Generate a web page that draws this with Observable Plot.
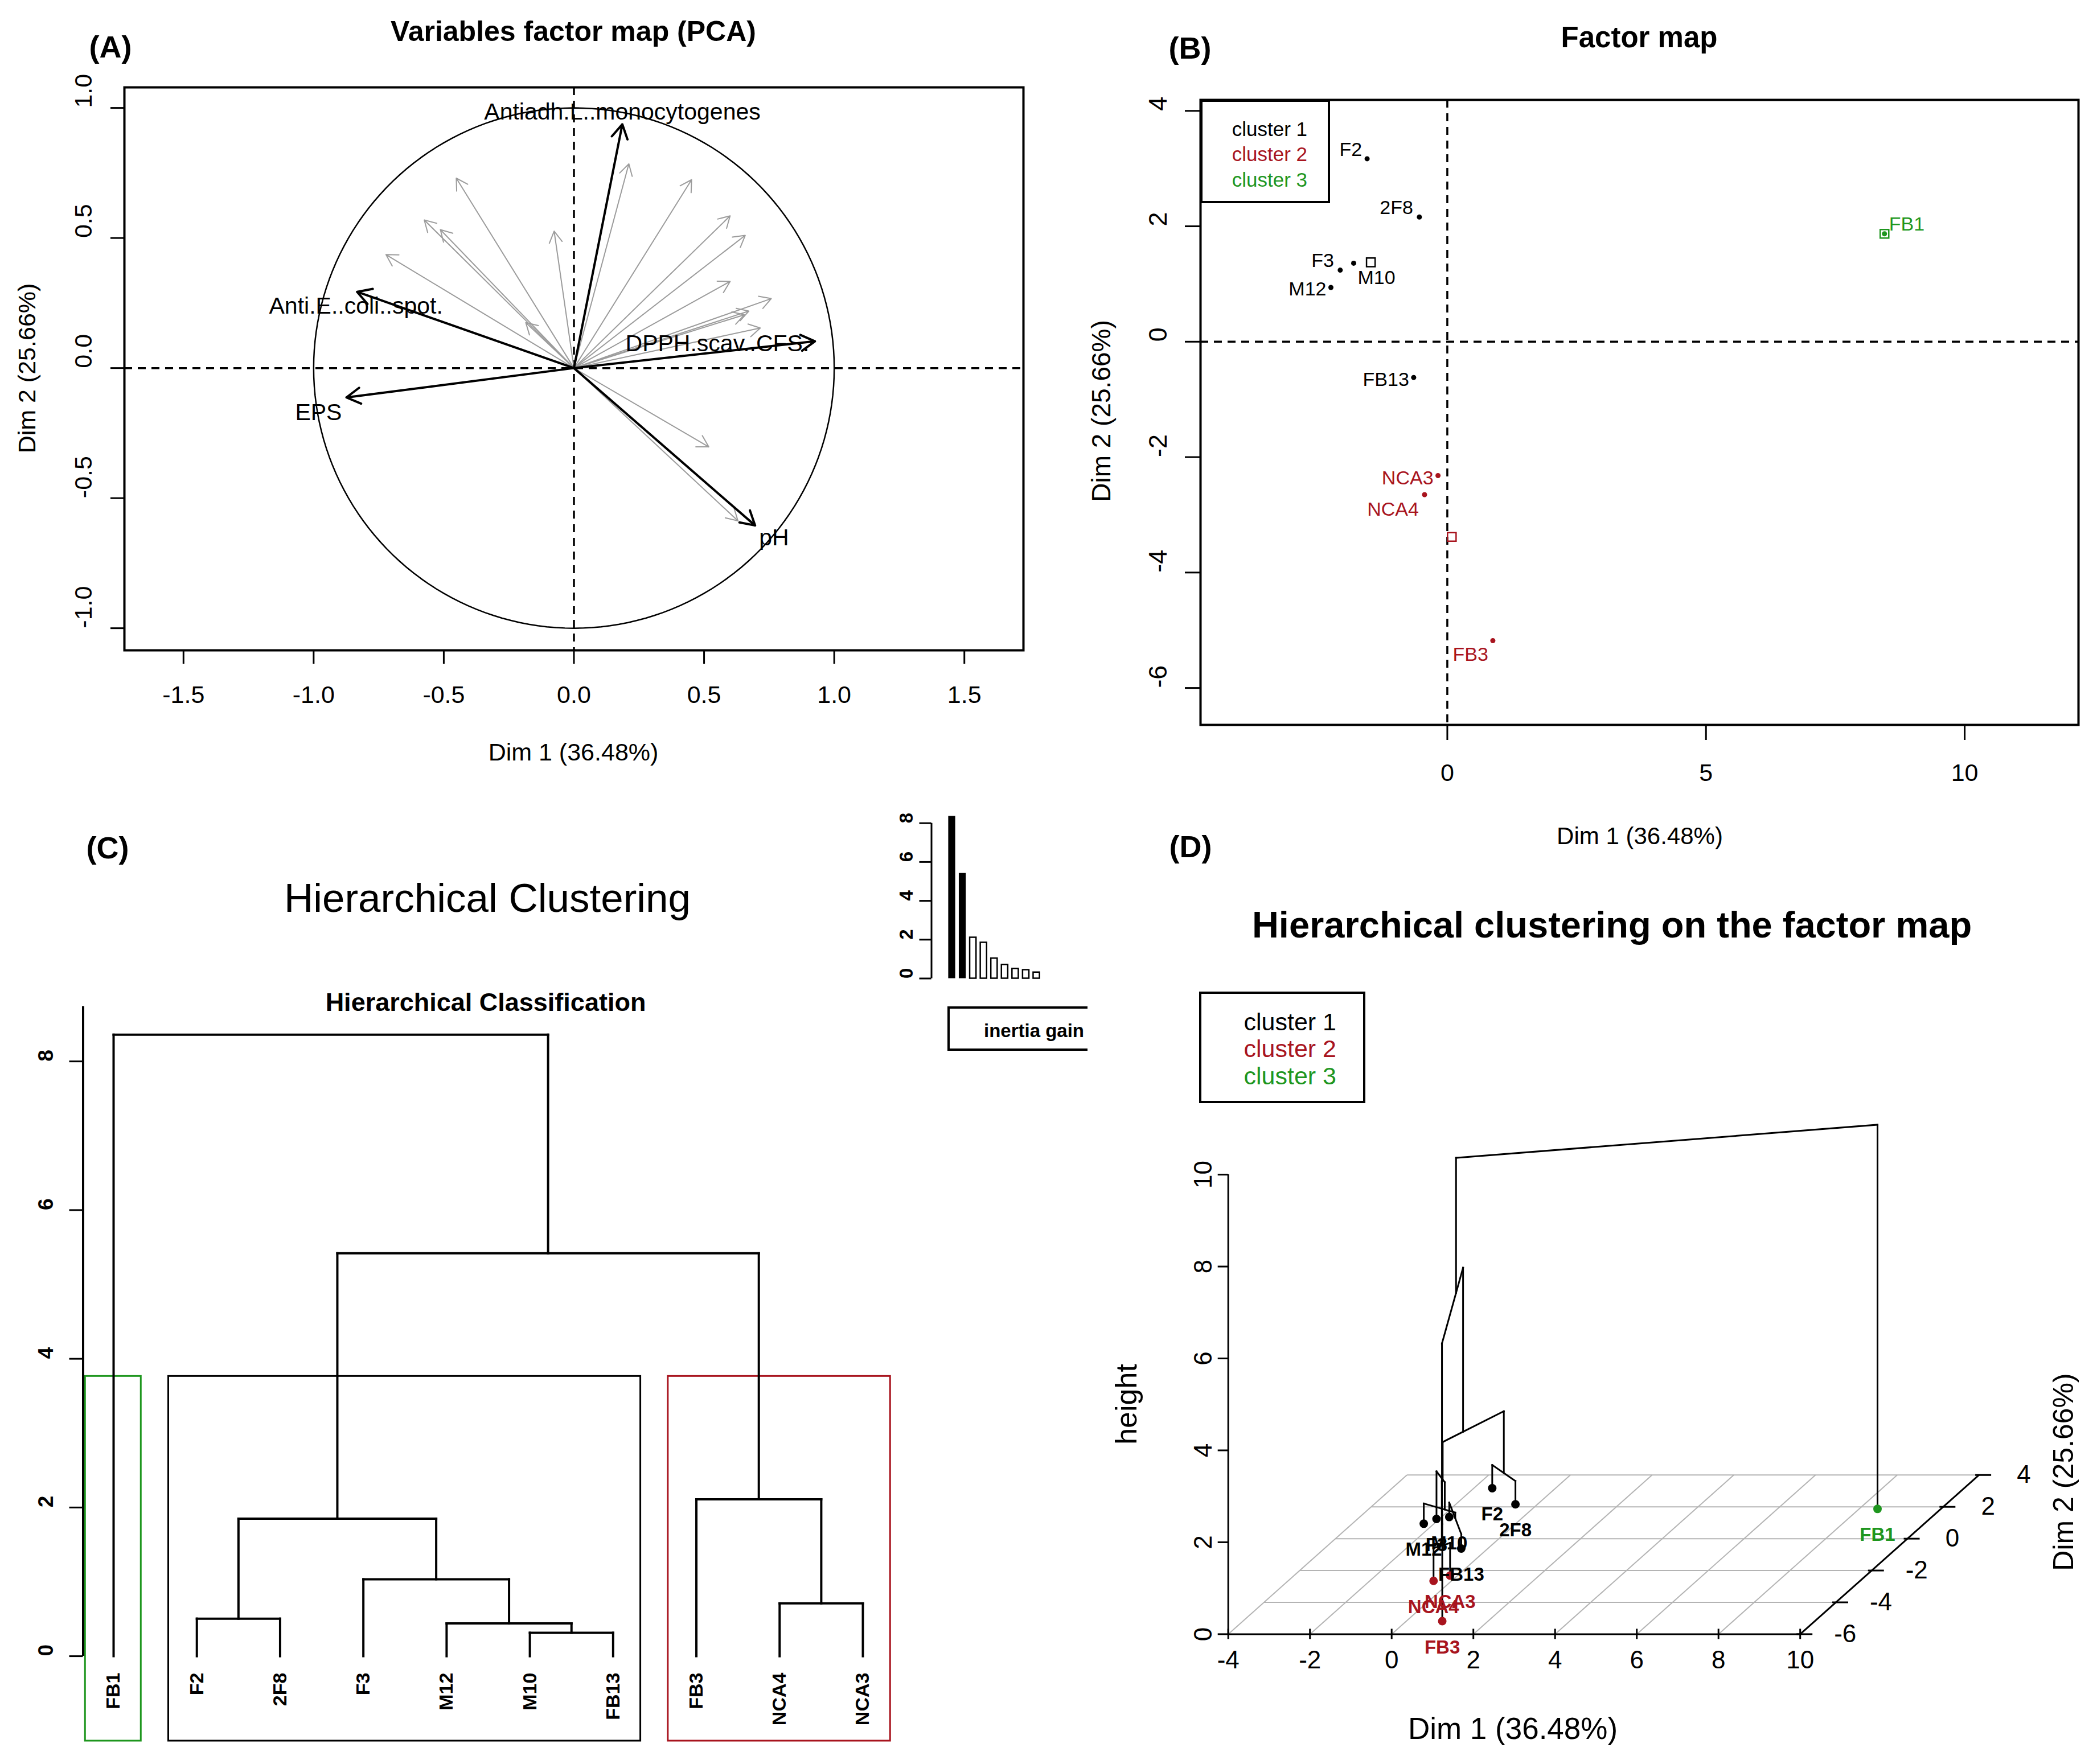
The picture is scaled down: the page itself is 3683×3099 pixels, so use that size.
<!DOCTYPE html>
<html><head><meta charset="utf-8">
<script src="https://cdn.jsdelivr.net/npm/d3@7"></script>
<script src="https://cdn.jsdelivr.net/npm/@observablehq/plot@0.6"></script>
<style>
html,body{margin:0;padding:0;background:#fff;overflow:hidden}
#fig{position:relative;width:3683px;height:3099px;background:#fff;font-family:"Liberation Sans",Arial,Helvetica,sans-serif;color:#000;overflow:hidden}
.abs{position:absolute;white-space:nowrap;line-height:1}
.panel{position:absolute}
.panel svg{overflow:visible;max-width:none}
.box{position:absolute;box-sizing:border-box;border:4px solid #000}
</style></head><body><div id="fig"></div>
<script>
// ---------------- DATA ----------------
// Panel A: variables factor map (correlation circle)
const mainVarNames = ["Antiadh.L..monocytogenes", "Anti.E..coli..spot.", "DPPH.scav..CFS.", "EPS", "pH"];
const mainVarDim1 = [0.186, -0.833, 0.926, -0.874, 0.696];
const mainVarDim2 = [0.937, 0.293, 0.103, -0.113, -0.605];
const otherVarDim1 = [-0.452, -0.575, -0.513, -0.722, -0.076, -0.185, 0.211, 0.452, 0.600, 0.658, 0.600, 0.758, 0.672, 0.655, 0.716, 0.518, 0.630];
const otherVarDim2 = [0.730, 0.569, 0.532, 0.436, 0.526, 0.175, 0.785, 0.724, 0.585, 0.510, 0.333, 0.267, 0.219, 0.205, 0.154, -0.303, -0.587];
const xTicksA = [-1.5, -1, -0.5, 0, 0.5, 1, 1.5];
const yTicksA = [-1, -0.5, 0, 0.5, 1];

// Individuals (factor map, panels B and D)
const indNames = ["F2", "2F8", "F3", "M10", "M12", "FB13", "NCA3", "NCA4", "FB3", "FB1"];
const indDim1 = [-1.55, -0.54, -2.07, -1.81, -2.25, -0.65, -0.18, -0.44, 0.88, 8.45];
const indDim2 = [3.17, 2.16, 1.24, 1.36, 0.94, -0.62, -2.32, -2.65, -5.18, 1.87];
const indCluster = [1, 1, 1, 1, 1, 1, 2, 2, 2, 3];
const clusterLabels = ["cluster 1", "cluster 2", "cluster 3"];
const xTicksB = [0, 5, 10];
const yTicksB = [-6, -4, -2, 0, 2, 4];

// Panel C: hierarchical tree
const leafOrder = ["FB1", "F2", "2F8", "F3", "M12", "M10", "FB13", "FB3", "NCA4", "NCA3"];
const mergeLeft = ["M10", "M12", "F2", "NCA4", "F3", "n3", "FB3", "n6", "FB1"];
const mergeRight = ["FB13", "n1", "2F8", "NCA3", "n2", "n5", "n4", "n7", "n8"];
const mergeHeight = [0.315, 0.44, 0.505, 0.71, 1.035, 1.85, 2.11, 5.42, 8.36];
const yTicksC = [0, 2, 4, 6, 8];
const yTicksInset = [0, 2, 4, 6, 8];

// Panel D: 3D map
const dim1Ticks3D = [-4, -2, 0, 2, 4, 6, 8, 10];
const dim2Ticks3D = [-6, -4, -2, 0, 2, 4];
const heightTicks3D = [0, 2, 4, 6, 8, 10];

// ---------------- STYLE ----------------
const FONT = "'Liberation Sans', Arial, Helvetica, sans-serif";
const RED = "#A8141E", GREEN = "#1E961E";
const clusterColor = {1: "#000000", 2: RED, 3: GREEN};
const STYLE = `background:transparent;overflow:visible;max-width:none;font-family:${FONT};`;
const dash = {stroke: "#000", strokeWidth: 3.5, strokeDasharray: "14,10"};

const fig = document.getElementById("fig");
function addText(txt, x, y, o = {}) {
  const d = document.createElement("div");
  d.className = "abs";
  d.textContent = txt;
  d.style.left = x + "px"; d.style.top = y + "px";
  d.style.fontSize = (o.size || 43) + "px";
  d.style.fontWeight = o.weight || "normal";
  d.style.color = o.color || "#000";
  if (o.family) d.style.fontFamily = o.family;
  const tx = o.anchor === "end" ? "-100%" : o.anchor === "start" ? "0" : "-50%";
  d.style.transform = `translate(${tx},-50%)` + (o.rot ? " rotate(-90deg)" : "");
  fig.appendChild(d);
}
function addBox(x1, y1, x2, y2, o = {}) {
  const d = document.createElement("div");
  d.className = "box";
  d.style.left = x1 + "px"; d.style.top = y1 + "px";
  d.style.width = (x2 - x1) + "px"; d.style.height = (y2 - y1) + "px";
  if (o.bw) d.style.borderWidth = o.bw + "px";
  if (o.noRight) d.style.borderRight = "none";
  fig.appendChild(d);
}
function mount(svg, left, top, w, h) {
  const wrap = document.createElement("div");
  wrap.className = "panel";
  wrap.style.left = left + "px"; wrap.style.top = top + "px";
  wrap.style.width = w + "px"; wrap.style.height = h + "px";
  wrap.appendChild(svg);
  fig.appendChild(wrap);
}

// ---------------- PANEL A ----------------
const circlePts = d3.range(0, 361, 2).map(a => ({x: Math.cos(a * Math.PI / 180), y: Math.sin(a * Math.PI / 180)}));
const mainVars = mainVarNames.map((n, i) => ({name: n, x: mainVarDim1[i], y: mainVarDim2[i]}));
const otherVars = otherVarDim1.map((x, i) => ({x, y: otherVarDim2[i]}));
const labelPosA = {
  "Antiadh.L..monocytogenes": {anchor: "middle", dx: 0, dy: -22},
  "Anti.E..coli..spot.": {anchor: "middle", dx: -2, dy: 25},
  "DPPH.scav..CFS.": {anchor: "end", dx: -10, dy: 4},
  "EPS": {anchor: "end", dx: -8, dy: 27},
  "pH": {anchor: "start", dx: 7, dy: 22}
};
// Plot's arrow wing length = headLength / 1.5 * strokeWidth
const plotA = Plot.plot({
  width: 1840, height: 1400, marginLeft: 218, marginRight: 43, marginTop: 153, marginBottom: 258,
  x: {domain: [-1.727, 1.727], axis: null},
  y: {domain: [-1.085, 1.079], axis: null},
  style: STYLE,
  marks: [
    Plot.line(circlePts, {x: "x", y: "y", stroke: "#000", strokeWidth: 2.5}),
    Plot.ruleX([0], dash),
    Plot.ruleY([0], dash),
    Plot.arrow(otherVars, {x1: () => 0, y1: () => 0, x2: "x", y2: "y", stroke: "#9c9c9c", strokeWidth: 2, headLength: 17}),
    Plot.arrow(mainVars, {x1: () => 0, y1: () => 0, x2: "x", y2: "y", stroke: "#000", strokeWidth: 4, headLength: 10.5}),
    ...mainVars.map(d => Plot.text([d], {x: "x", y: "y", text: "name", textAnchor: labelPosA[d.name].anchor,
      dx: labelPosA[d.name].dx, dy: labelPosA[d.name].dy, fontSize: 41, fontFamily: FONT, fill: "#000"})),
    Plot.frame({stroke: "#000", strokeWidth: 4}),
    Plot.axisX(xTicksA, {tickSize: 24, tickPadding: 38, tickFormat: d => d.toFixed(1), fontSize: 43, fontFamily: FONT, strokeWidth: 3, label: null}),
    Plot.axisY(yTicksA, {tickSize: 24, fill: "none", strokeWidth: 3, label: null}),
    Plot.text(yTicksA, {y: d => d, frameAnchor: "left", dx: -71, rotate: -90, text: d => d.toFixed(1), fontSize: 43, fontFamily: FONT})
  ]
});
mount(plotA, 0, 0, 1840, 1400);
addText("Variables factor map (PCA)", 1007, 55, {size: 50, weight: "bold"});
addText("(A)", 194, 82, {size: 54, weight: "bold"});
addText("Dim 1 (36.48%)", 1007, 1321, {size: 43});
addText("Dim 2 (25.66%)", 47, 647, {size: 43, rot: true});

// ---------------- PANEL B ----------------
const inds = indNames.map((n, i) => ({name: n, x: indDim1[i], y: indDim2[i], cluster: indCluster[i]}));
const centers = [1, 2, 3].map(k => {
  const m = inds.filter(d => d.cluster === k);
  return {cluster: k, x: d3.mean(m, d => d.x), y: d3.mean(m, d => d.y)};
});
const labelPosB = {
  "F2": {anchor: "end", dx: -9, dy: -16}, "2F8": {anchor: "end", dx: -11, dy: -16},
  "F3": {anchor: "end", dx: -11, dy: -16}, "M10": {anchor: "start", dx: 7, dy: 26},
  "M12": {anchor: "end", dx: -8, dy: 3}, "FB13": {anchor: "end", dx: -8, dy: 4},
  "NCA3": {anchor: "end", dx: -8, dy: 5}, "NCA4": {anchor: "end", dx: -10, dy: 26},
  "FB3": {anchor: "end", dx: -8, dy: 25}, "FB1": {anchor: "start", dx: 8, dy: -17}
};
const plotB = Plot.plot({
  width: 1843, height: 1500, marginLeft: 268, marginRight: 33, marginTop: 175, marginBottom: 227,
  x: {domain: [-4.77, 12.2], axis: null},
  y: {domain: [-6.64, 4.19], axis: null},
  style: STYLE,
  marks: [
    Plot.ruleX([0], dash),
    Plot.ruleY([0], dash),
    ...[1, 2, 3].map(k => Plot.dot(inds.filter(d => d.cluster === k), {x: "x", y: "y", r: 4.5, fill: clusterColor[k], stroke: "none"})),
    ...[1, 2, 3].map(k => Plot.dot(centers.filter(d => d.cluster === k), {x: "x", y: "y", symbol: "square", r: 8.5, fill: "none", stroke: clusterColor[k], strokeWidth: 2.5})),
    ...inds.map(d => Plot.text([d], {x: "x", y: "y", text: "name", textAnchor: labelPosB[d.name].anchor,
      dx: labelPosB[d.name].dx, dy: labelPosB[d.name].dy, fontSize: 34, fontFamily: FONT, fill: clusterColor[d.cluster]})),
    Plot.frame({stroke: "#000", strokeWidth: 4}),
    Plot.axisX(xTicksB, {tickSize: 27, tickPadding: 41, tickFormat: d => String(d), fontSize: 43, fontFamily: FONT, strokeWidth: 3, label: null}),
    Plot.axisY(yTicksB, {tickSize: 27, fill: "none", strokeWidth: 3, label: null}),
    Plot.text(yTicksB, {y: d => d, frameAnchor: "left", dx: -74, rotate: -90, text: d => String(d), fontSize: 45, fontFamily: FONT})
  ]
});
mount(plotB, 1840, 0, 1843, 1500);
addText("Factor map", 2879, 65, {size: 51, weight: "bold"});
addText("(B)", 2090, 84, {size: 54, weight: "bold"});
addText("Dim 1 (36.48%)", 2880, 1469, {size: 42});
addText("Dim 2 (25.66%)", 1934, 722, {size: 46, rot: true});
addBox(2108, 175, 2336, 357);
clusterLabels.forEach((t, i) => addText(t, 2296, [226, 270, 315][i], {size: 35, color: clusterColor[i + 1], anchor: "end"}));

// ---------------- PANEL C ----------------
const nodes = {};
leafOrder.forEach((n, i) => nodes[n] = {pos: i + 1, h: 0, members: [n]});
mergeLeft.forEach((a, i) => {
  const A = nodes[a], B = nodes[mergeRight[i]];
  nodes["n" + (i + 1)] = {pos: (A.pos + B.pos) / 2, h: mergeHeight[i], members: A.members.concat(B.members)};
});
const segC = [];
mergeLeft.forEach((a, i) => {
  const P = nodes["n" + (i + 1)], A = nodes[a], B = nodes[mergeRight[i]];
  segC.push({x1: A.pos, y1: A.h, x2: A.pos, y2: P.h},
            {x1: B.pos, y1: B.h, x2: B.pos, y2: P.h},
            {x1: A.pos, y1: P.h, x2: B.pos, y2: P.h});
});
const clusterOf = Object.fromEntries(indNames.map((n, i) => [n, indCluster[i]]));
const heightsDesc = mergeHeight.slice().sort((a, b) => b - a);
const nClust = 3;
const boxTop = (heightsDesc[nClust - 2] + heightsDesc[nClust - 1]) / 2;
const boxes = [];
leafOrder.forEach((n, i) => {
  const k = clusterOf[n];
  if (boxes.length && boxes[boxes.length - 1].cluster === k) boxes[boxes.length - 1].last = i + 1;
  else boxes.push({cluster: k, first: i + 1, last: i + 1});
});
const C_PX = (1515 - 199) / 9;
const yMinC = -1.14, axisTopC = 8.74;
const plotC = Plot.plot({
  width: 1950, height: 1699, marginLeft: 199, marginRight: 435, marginTop: 367.5, marginBottom: 41,
  x: {domain: [1, 10], axis: null},
  y: {domain: [yMinC, axisTopC], axis: null},
  style: STYLE,
  marks: [
    ...[1, 2, 3].map(k => Plot.rect(boxes.filter(b => b.cluster === k), {x1: b => b.first - 0.34, x2: b => b.last + 0.33,
      y1: () => yMinC, y2: () => boxTop, fill: "none", stroke: clusterColor[k], strokeWidth: 3})),
    Plot.link(segC, {x1: "x1", y1: "y1", x2: "x2", y2: "y2", stroke: "#000", strokeWidth: 4, strokeLinecap: "square"}),
    Plot.ruleX([1 - 53.5 / C_PX], {y1: () => 0, y2: () => axisTopC, stroke: "#000", strokeWidth: 4}),
    Plot.ruleY(yTicksC, {y: d => d, x1: () => 1 - 77.5 / C_PX, x2: () => 1 - 53.5 / C_PX, stroke: "#000", strokeWidth: 3}),
    Plot.text(yTicksC, {y: d => d, frameAnchor: "left", dx: -118, rotate: -90, text: d => String(d), fontSize: 37, fontWeight: "bold", fontFamily: FONT}),
    Plot.text(leafOrder, {x: (d, i) => i + 1, y: () => 0, text: d => d, rotate: -90, textAnchor: "end", dy: 29, fontSize: 34, fontWeight: "bold", fontFamily: FONT})
  ]
});
mount(plotC, 0, 1400, 1950, 1699);

const gains = heightsDesc.map((h, i) => ({i, h}));
const plotInset = Plot.plot({
  width: 400, height: 450, marginLeft: 85.5, marginRight: 120.7, marginTop: 28.6, marginBottom: 131.5,
  x: {domain: [-1.44, 9], axis: null},
  y: {domain: [0, 8.5], axis: null},
  style: STYLE,
  marks: [
    Plot.rect(gains.filter(d => d.i < nClust - 1), {x1: d => d.i + 0.17, x2: d => d.i + 0.83, y1: () => 0, y2: "h", fill: "#000"}),
    Plot.rect(gains.filter(d => d.i >= nClust - 1), {x1: d => d.i + 0.2, x2: d => d.i + 0.8, y1: () => 0, y2: "h", fill: "#fff", stroke: "#000", strokeWidth: 2.5}),
    Plot.ruleX([-1.44], {y1: () => 0, y2: () => 8, stroke: "#000", strokeWidth: 3}),
    Plot.axisY(yTicksInset, {tickSize: 21, fill: "none", strokeWidth: 3, label: null}),
    Plot.text(yTicksInset, {y: d => d, frameAnchor: "left", dx: -43.5, rotate: -90, text: d => String(d), fontSize: 33, fontWeight: "bold", fontFamily: FONT})
  ]
});
mount(plotInset, 1550, 1400, 400, 450);
addText("(C)", 189, 1489, {size: 54, weight: "bold"});
addText("Hierarchical Clustering", 856, 1577, {size: 71});
addText("Hierarchical Classification", 853, 1760, {size: 45, weight: "bold"});
addBox(1664, 1768, 1910, 1846, {noRight: true});
addText("inertia gain", 1816, 1810, {size: 33, weight: "bold"});

// ---------------- PANEL D ----------------
const D_XPX = 71.75, D_ZPX = 80.73, D_YPXX = 31.39, D_YPXY = 27.96;
const y3min = dim2Ticks3D[0], y3max = dim2Ticks3D[dim2Ticks3D.length - 1];
const x3min = dim1Ticks3D[0], x3max = dim1Ticks3D[dim1Ticks3D.length - 1];
const proj = (X, Y, Z) => ({u: X + (Y - y3min) * D_YPXX / D_XPX, v: Z + (Y - y3min) * D_YPXY / D_ZPX});
const seg3 = (a, b) => ({x1: a.u, y1: a.v, x2: b.u, y2: b.v});

const gridD = [];
dim2Ticks3D.forEach(Y => gridD.push(seg3(proj(x3min, Y, 0), proj(x3max, Y, 0))));
dim1Ticks3D.forEach(X => gridD.push(seg3(proj(X, y3min, 0), proj(X, y3max, 0))));

const indByName = Object.fromEntries(inds.map(d => [d.name, d]));
const cent = n => ({X: d3.mean(nodes[n].members, m => indByName[m].x), Y: d3.mean(nodes[n].members, m => indByName[m].y)});
const segD = [];
mergeLeft.forEach((a, i) => {
  const b = mergeRight[i], P = nodes["n" + (i + 1)];
  const ca = cent(a), cb = cent(b);
  segD.push(seg3(proj(ca.X, ca.Y, nodes[a].h), proj(ca.X, ca.Y, P.h)),
            seg3(proj(cb.X, cb.Y, nodes[b].h), proj(cb.X, cb.Y, P.h)),
            seg3(proj(ca.X, ca.Y, P.h), proj(cb.X, cb.Y, P.h)));
});
const ptsD = inds.map(d => ({...d, ...proj(d.x, d.y, 0)}));
const plotD = Plot.plot({
  width: 1733, height: 1699, marginLeft: 206.7, marginRight: 521.8, marginTop: 663.1, marginBottom: 228.6,
  x: {domain: [-4, 10], axis: null},
  y: {domain: [0, 10], axis: null},
  style: STYLE,
  marks: [
    Plot.link(gridD, {x1: "x1", y1: "y1", x2: "x2", y2: "y2", stroke: "#b4b4b4", strokeWidth: 2}),
    // x axis (Dim 1)
    Plot.link([seg3(proj(x3min, y3min, 0), proj(x3max, y3min, 0))], {x1: "x1", y1: "y1", x2: "x2", y2: "y2", stroke: "#000", strokeWidth: 3}),
    Plot.ruleX(dim1Ticks3D, {x: d => proj(d, y3min, 0).u, y1: () => -9 / D_ZPX, y2: () => 9 / D_ZPX, stroke: "#000", strokeWidth: 3}),
    Plot.text(dim1Ticks3D, {x: d => proj(d, y3min, 0).u, y: () => 0, dy: 46, text: d => String(d), fontSize: 44, fontFamily: FONT}),
    // Dim 2 axis
    Plot.link([seg3(proj(x3max, y3min, 0), proj(x3max, y3max, 0))], {x1: "x1", y1: "y1", x2: "x2", y2: "y2", stroke: "#000", strokeWidth: 3}),
    Plot.ruleY(dim2Ticks3D, {y: d => proj(x3max, d, 0).v, x1: d => proj(x3max, d, 0).u - 6 / D_XPX, x2: d => proj(x3max, d, 0).u + 22 / D_XPX, stroke: "#000", strokeWidth: 3}),
    Plot.text(dim2Ticks3D, {x: d => proj(x3max, d, 0).u, y: d => proj(x3max, d, 0).v, dx: 79, text: d => String(d), fontSize: 44, fontFamily: FONT}),
    // height axis
    Plot.ruleX([x3min], {y1: () => 0, y2: () => 10, stroke: "#000", strokeWidth: 3}),
    Plot.ruleY(heightTicks3D, {y: d => d, x1: () => x3min - 18 / D_XPX, x2: () => x3min, stroke: "#000", strokeWidth: 3}),
    Plot.text(heightTicks3D, {x: () => x3min, y: d => d, dx: -43, rotate: -90, text: d => String(d), fontSize: 44, fontFamily: FONT}),
    // tree
    Plot.link(segD, {x1: "x1", y1: "y1", x2: "x2", y2: "y2", stroke: "#000", strokeWidth: 3, strokeLinecap: "square"}),
    ...[1, 2, 3].map(k => Plot.dot(ptsD.filter(d => d.cluster === k), {x: "u", y: "v", r: 7.5, fill: clusterColor[k], stroke: "none"})),
    ...[1, 2, 3].map(k => Plot.text(ptsD.filter(d => d.cluster === k), {x: "u", y: "v", dy: 46, text: "name", fill: clusterColor[k], fontSize: 33, fontWeight: "bold", fontFamily: FONT}))
  ]
});
mount(plotD, 1950, 1400, 1733, 1699);
addText("(D)", 2091, 1487, {size: 54, weight: "bold"});
addText("Hierarchical clustering on the factor map", 2831, 1624, {size: 65, weight: "bold"});
addBox(2106, 1742, 2398, 1938);
clusterLabels.forEach((t, i) => addText(t, 2347, [1795, 1842, 1890][i], {size: 43, color: clusterColor[i + 1], anchor: "end"}));
addText("height", 1978, 2467, {size: 52, rot: true});
addText("Dim 1 (36.48%)", 2657, 3036, {size: 53});
addText("Dim 2 (25.66%)", 3624, 2586, {size: 50, rot: true});
</script></body></html>
